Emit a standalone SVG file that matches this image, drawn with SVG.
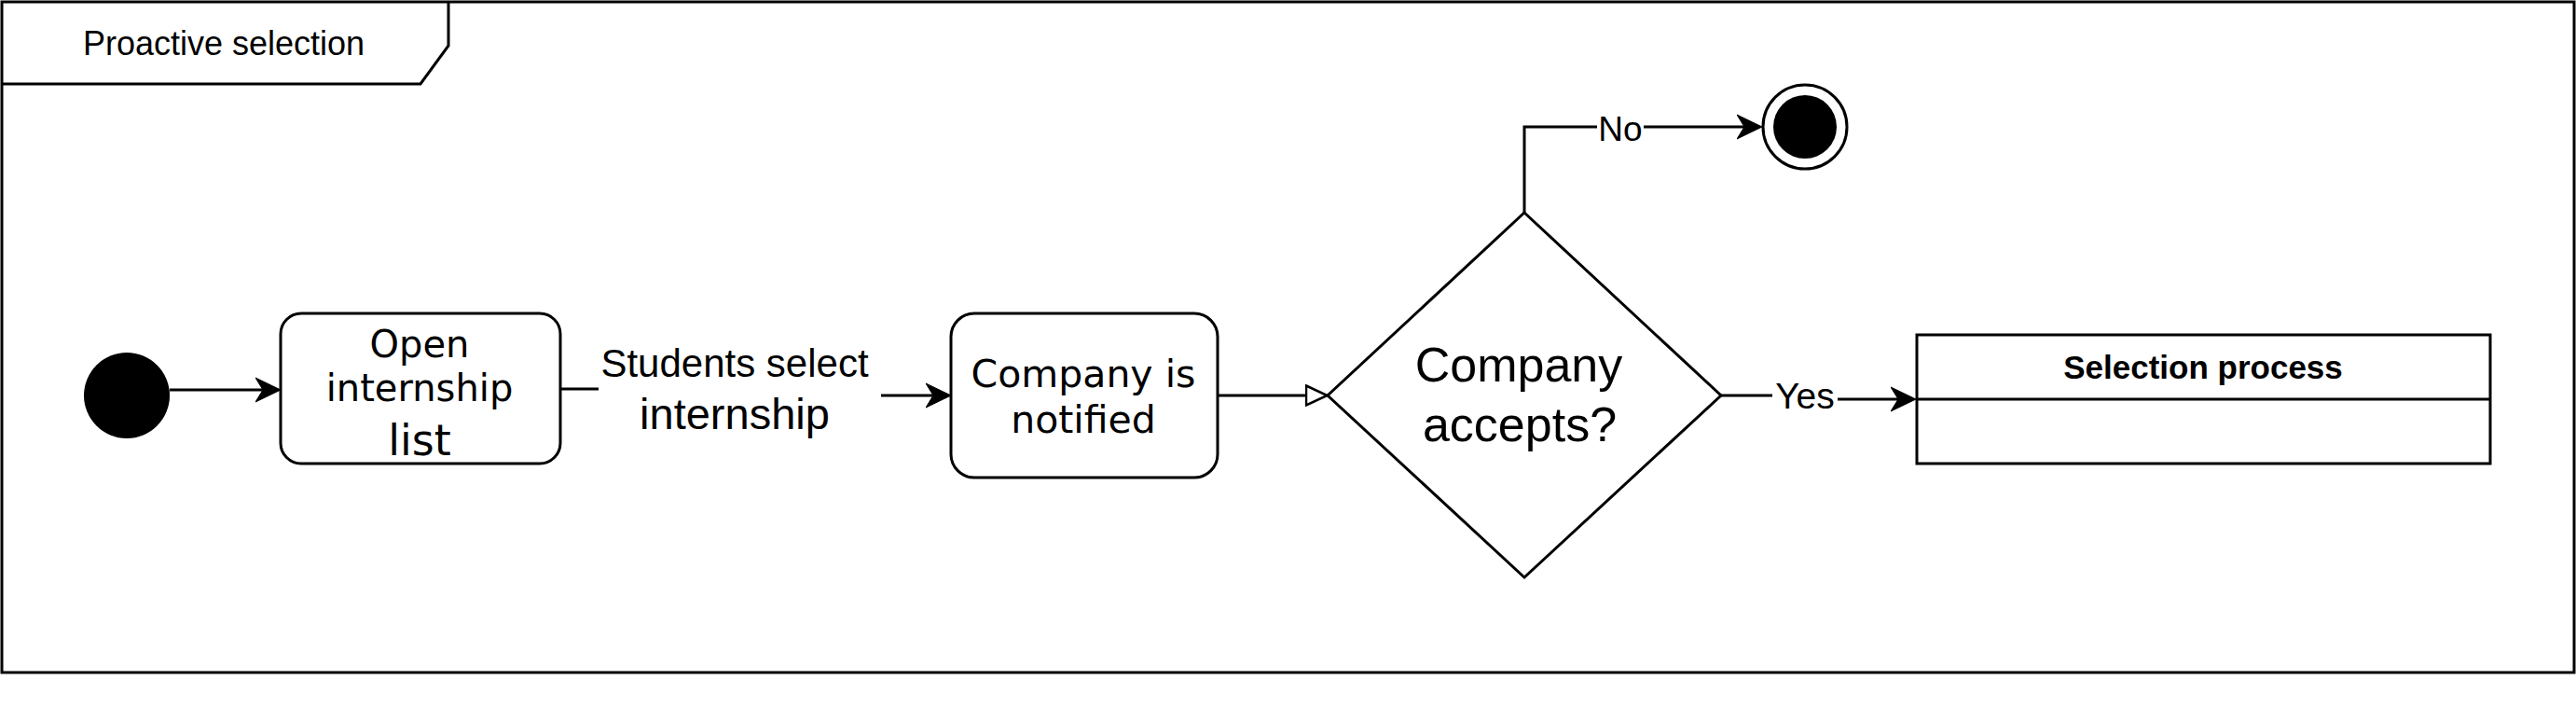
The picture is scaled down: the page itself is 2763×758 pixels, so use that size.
<svg xmlns="http://www.w3.org/2000/svg" width="2763" height="758" viewBox="0 0 2763 758">
<style>
.ln{fill:none;stroke:#000;stroke-width:3}
.box{fill:#fff;stroke:#000;stroke-width:3}
.lbl{font-family:"Liberation Sans",Arial,sans-serif;fill:#000;text-anchor:middle}
.dv{font-family:"DejaVu Sans",sans-serif;fill:#000;text-anchor:middle}
.bg{fill:#fff;stroke:none}
</style>
<defs>
<marker id="arr" markerUnits="userSpaceOnUse" viewBox="0 0 28 28" markerWidth="28" markerHeight="28" refX="8" refY="14" orient="auto">
<path d="M0,1 L27,14 L0,27 L8,14 Z" fill="#000" stroke="#000" stroke-width="1"/>
</marker>
<marker id="open" markerUnits="userSpaceOnUse" viewBox="0 0 26 24" markerWidth="26" markerHeight="24" refX="1.5" refY="12" orient="auto">
<path d="M1.5,1.5 L24,12 L1.5,22.5 Z" fill="#fff" stroke="#000" stroke-width="2.5"/>
</marker>
</defs>
<rect x="0" y="0" width="2763" height="758" fill="#fff"/>
<g id="frame">
<rect x="2" y="2" width="2759" height="719" class="box"/>
<path d="M2,90 H451 L481,49 V2" class="ln"/>
<text x="240" y="59" class="lbl" font-size="36">Proactive selection</text>
</g>
<g id="connectors">
<path d="M182,418 H282" class="ln" marker-end="url(#arr)"/>
<path d="M601,417 H790 V424 H1001" class="ln" marker-end="url(#arr)"/>
<rect x="642" y="368" width="303" height="110" class="bg"/>
<text x="788" y="404" class="lbl" font-size="42">Students select</text>
<text x="788" y="460" class="lbl" font-size="47">internship</text>
<path d="M1306,424 H1401" class="ln" marker-end="url(#open)"/>
<path d="M1635,228 V136 H1871" class="ln" marker-end="url(#arr)"/>
<rect x="1713" y="112" width="50" height="48" class="bg"/>
<text x="1738" y="151" class="lbl" font-size="37">No</text>
<path d="M1846,424 H1936 V428 H2036" class="ln" marker-end="url(#arr)"/>
<rect x="1901" y="400" width="70" height="48" class="bg"/>
<text x="1936" y="438" class="lbl" font-size="39">Yes</text>
</g>
<g id="start">
<circle cx="136" cy="424" r="46" fill="#000"/>
</g>
<g id="open-list">
<rect x="301" y="336" width="300" height="161" rx="22" ry="22" class="box"/>
<text x="450" y="383" class="dv" font-size="40">Open</text>
<text x="450" y="430" class="dv" font-size="40">internship</text>
<text x="450" y="488" class="dv" font-size="46">list</text>
</g>
<g id="company-notified">
<rect x="1020" y="336" width="286" height="176" rx="25" ry="25" class="box"/>
<text x="1162" y="415" class="dv" font-size="41">Company is</text>
<text x="1162" y="464" class="dv" font-size="41">notified</text>
</g>
<g id="decision">
<path d="M1635,228 L1846,424 L1635,619 L1424,424 Z" class="box"/>
<text x="1629" y="409" class="lbl" font-size="52">Company</text>
<text x="1630" y="473" class="lbl" font-size="52">accepts?</text>
</g>
<g id="end">
<circle cx="1936" cy="136" r="45" fill="#fff" stroke="#000" stroke-width="3"/>
<circle cx="1936" cy="136" r="34" fill="#000"/>
</g>
<g id="selection-process">
<rect x="2056" y="359" width="615" height="138" class="box"/>
<path d="M2056,428 H2671" class="ln"/>
<text x="2363" y="406" class="lbl" font-size="35" font-weight="bold">Selection process</text>
</g>
</svg>
